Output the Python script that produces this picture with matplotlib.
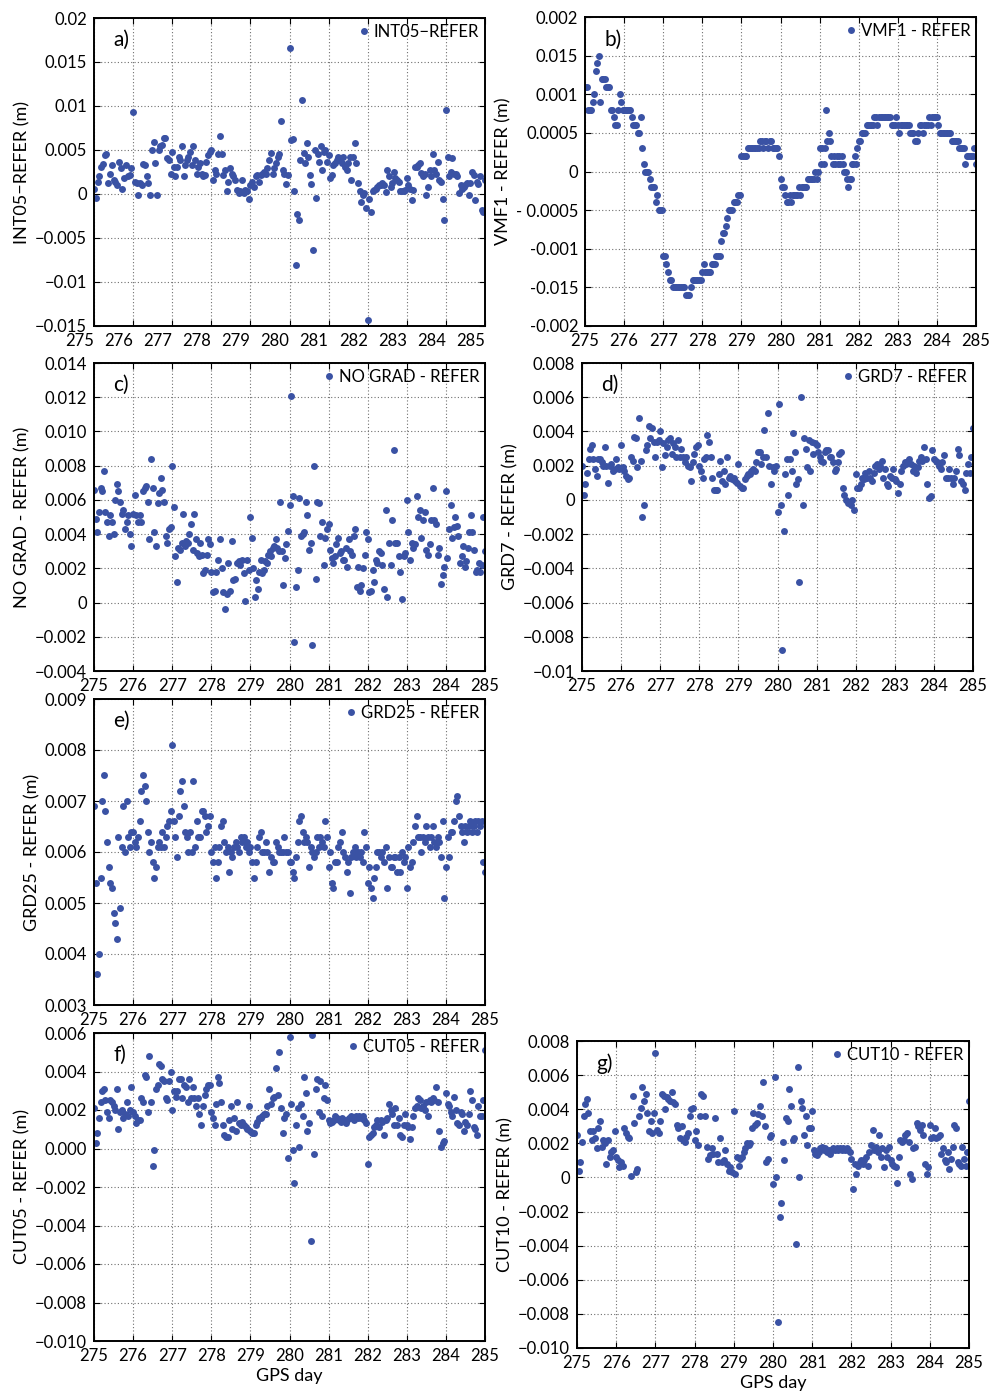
import numpy as np
import matplotlib
matplotlib.use("Agg")
import matplotlib.pyplot as plt
from matplotlib.transforms import ScaledTranslation

plt.rcParams['font.family'] = ['Lato', 'DejaVu Sans']

# GPS days covered by every panel
gps_days = [275, 276, 277, 278, 279, 280, 281, 282, 283, 284, 285]

# Differences per epoch, grouped by GPS day (one inner list per day)
# a) INT05 - REFER, mm
int05 = [
    [0.6, -0.4, 1.4, 2.0, 3.1, 3.4, 4.4, 4.6, 1.3, 2.3, 3.3, 1.6, 1.4, 1.0, 3.6, 2.9, 0.6, 1.8, 3.3, 2.0, 2.2, 2.9],
    [9.3, 1.4, 1.2, -0.1, 1.3, 1.0, 3.4, 3.3, 2.0, 1.2, -0.1, 5.0, 5.9, 3.5, -0.1, 5.0, 5.4, 5.6, 6.4, 6.4, 4.1, 3.9, 2.3],
    [4.8, 3.1, 2.0, 3.1, 4.2, 3.9, 5.5, 2.0, 3.3, 3.9, 4.2, 4.8, 3.3, 5.4, 3.9, 2.3, 3.1, 3.5, 2.3, 2.0, 2.2, 3.6, 4.4, 4.8],
    [5.0, 1.6, 2.7, 2.3, 4.5, 6.6, 4.6, 2.2, 2.7, 0.3, 1.4, 2.9, 2.3, 2.0, 1.6, 0.5, 0.1, 0.3, 1.6, 0.1, 0.5, 0.3, -0.6],
    [1.0, 1.4, 0.8, 2.0, 2.2, 1.4, 2.2, 2.3, 2.5, 2.3, 2.9, 3.9, 4.7, 2.3, 2.9, 3.5, 4.2, 4.6, 8.3, 2.7, 2.3, 1.1, 2.2],
    [16.6, 6.1, 6.3, 0.3, -8.1, -2.3, -3.0, 3.9, 10.7, 4.7, 3.5, 5.8, 4.2, 2.2, 1.1, -6.4, 5.0, -0.5, 4.6, 3.6, 5.4, 2.7, 4.8, 5.0, 3.6],
    [4.4, 1.8, 2.2, 3.3, 3.5, 3.9, 4.2, 3.9, 3.5, 4.2, 3.1, 2.7, 3.5, 4.2, 1.6, 4.2, 5.8, 3.5, 1.2, 0.3, -0.9, -0.1, 0.1, -1.6],
    [-14.3, -0.6, -2.0, 0.3, 0.5, 0.6, 0.8, 1.0, 1.0, 1.2, 1.0, 0.2, 2.7, 2.0, 0.8, 1.3, 2.5, 1.8, 1.6, 1.4, 0.3, 0.3, 0.3, 0.5],
    [1.8, 1.0, 0.6, -0.7, 0.5, 3.1, 3.1, 3.3, 3.5, 2.4, 2.0, 2.3, -0.1, 0.8, 2.7, 2.0, 4.5, 2.7, 2.3, 3.6, 1.6, 1.4, -0.6, -3.0],
    [9.5, 4.2, 2.0, 2.5, 4.1, 2.3, 2.3, 2.0, 0.1, 1.0, 0.6, 0.8, 1.0, 1.2, -0.1, 1.2, 2.5, 2.2, -0.7, 1.4, 1.1, 2.0, -1.8, -2.0, 1.6],
]

# b) VMF1 - REFER, units of 0.1 mm
vmf1 = [
    [11, 11, 8, 8, 8, 9, 10, 13, 14, 15, 9, 12, 12, 12, 11, 11, 11, 8, 8, 7, 6, 6, 8, 10, 9, 8],
    [8, 8, 8, 8, 8, 7, 6, 6, 6, 5, 5, 7, 3, 1, 0, 0, 0, -1, -2, -2, -2, -4, -3, -5, -5, -5],
    [-11, -11, -12, -13, -14, -14, -15, -15, -15, -15, -15, -15, -15, -15, -16, -16, -16, -15, -14, -14, -14, -14, -14, -14],
    [-13, -12, -13, -13, -13, -13, -12, -12, -12, -11, -11, -11, -9, -8, -8, -7, -6, -5, -5, -5, -4, -4, -4, -3, -3],
    [2, 2, 2, 2, 3, 3, 3, 3, 3, 3, 3, 3, 4, 4, 3, 4, 4, 3, 4, 4, 3, 3, 3, 3, 2],
    [-1, -2, -2, -3, -4, -4, -3, -4, -3, -3, -3, -3, -2, -3, -2, -2, -2, -2, -1, -1, -1, -1, -1, 0, -1, 0],
    [3, 1, 3, 1, 3, 8, 4, 5, 4, 2, 1, 2, 1, 2, 1, 2, 1, 2, 1, 0, 0, -1, -2, -1, -1, 1, 1, 2, 1, 3],
    [4, 4, 5, 5, 5, 6, 6, 6, 6, 6, 7, 7, 6, 7, 7, 7, 7, 7, 7, 7, 7, 6, 6, 6, 7],
    [6, 5, 6, 6, 6, 6, 6, 6, 5, 5, 5, 4, 4, 5, 6, 6, 5, 6, 6, 6, 7, 6, 7, 7, 7],
    [7, 6, 5, 5, 5, 5, 5, 5, 5, 5, 4, 4, 4, 4, 4, 3, 3, 3, 3, 1, 2, 2, 2, 2, 2, 3, 1],
]

# c) NO GRAD - REFER, mm
nograd = [
    [6.6, 4.9, 4.1, 5.3, 6.7, 6.5, 7.7, 5.3, 4.7, 3.9, 5.1, 4.7, 4.0, 6.0, 6.9, 6.5, 5.9, 5.2, 5.4, 4.3, 4.7, 5.1, 4.0, 3.3],
    [5.2, 6.3, 5.1, 4.7, 5.1, 4.7, 6.5, 6.7, 6.8, 5.9, 3.7, 8.4, 6.7, 4.1, 3.3, 5.8, 6.4, 7.3, 6.6, 5.9, 3.9, 3.5, 4.3, 4.4],
    [8.0, 5.6, 2.7, 1.2, 3.2, 3.1, 3.5, 5.2, 3.3, 3.6, 3.5, 4.0, 4.6, 3.1, 5.2, 3.7, 2.9, 2.7, 3.5, 2.8, 1.7, 1.9, 2.8, 3.7, 3.4],
    [1.8, 0.6, 0.7, 1.8, 2.5, 3.7, 2.0, 0.6, -0.4, 0.5, 2.3, 0.7, 3.6, 1.3, 1.4, 2.3, 2.4, 2.2, 2.5, 1.7, 0.1, 2.5, 1.9],
    [5.0, 3.8, 2.0, 0.3, 1.3, 0.8, 1.8, 2.5, 1.7, 1.9, 2.4, 2.3, 2.8, 3.0, 2.7, 3.2, 3.3, 3.7, 3.2, 3.0, 5.9, 3.0, 1.0, 2.6, 3.4, 4.2],
    [5.7, 12.1, 6.2, -2.3, 0.9, 1.9, 6.1, 3.9, 4.0, 4.1, 5.9, 5.1, 3.1, 3.5, -2.5, 8.0, 1.4, 5.9, 5.8, 3.9, 4.7, 2.2, 3.8, 4.3],
    [4.6, 3.1, 2.6, 2.3, 2.7, 3.4, 3.8, 2.9, 3.0, 2.5, 2.5, 3.2, 2.1, 3.7, 3.0, 2.8, 3.9, 4.3, 0.9, 2.1, 0.7, 1.0, 2.0, 2.8, 4.1],
    [3.7, 0.6, 0.7, 1.9, 1.2, 2.5, 2.3, 3.0, 2.9, 2.2, 0.8, 5.4, 0.3, 3.5, 2.2, 4.8, 8.9, 3.5, 3.5, 2.7, 1.8, 0.2, 2.7, 2.9],
    [6.0, 4.1, 2.5, 3.5, 3.2, 3.4, 6.2, 5.0, 5.4, 3.8, 4.8, 5.3, 3.1, 2.8, 3.4, 4.8, 6.7, 4.8, 4.6, 2.8, 3.2, 1.1, 1.6, 2.1],
    [6.5, 2.6, 4.3, 5.7, 3.8, 4.4, 5.0, 4.5, 3.9, 2.3, 2.7, 3.3, 2.1, 2.4, 3.2, 4.1, 5.1, 4.1, 3.1, 1.8, 1.9, 2.3, 1.8, 2.2, 5.0, 3.0],
]

# d) GRD7 - REFER, mm
grd7 = [
    [2.0, 0.3, 0.9, 1.6, 2.4, 3.0, 3.2, 2.4, 1.8, 1.4, 2.4, 2.4, 2.2, 2.0, 3.1, 2.0, 1.0, 2.0, 2.1, 1.7, 1.8, 2.4, 1.9, 1.8],
    [3.2, 1.9, 1.7, 1.4, 1.2, 1.3, 2.5, 2.3, 3.7, 3.6, 1.9, 4.8, 2.3, -1.0, -0.3, 2.9, 3.2, 4.3, 3.6, 4.2, 3.4, 2.5, 3.4, 3.5],
    [4.0, 1.9, 3.3, 2.6, 3.1, 3.5, 3.6, 2.7, 3.3, 3.1, 2.5, 3.5, 2.5, 3.0, 2.5, 2.2, 2.5, 2.0, 1.9, 1.1, 2.2, 2.7, 3.1, 3.2],
    [2.0, 1.7, 1.3, 2.4, 2.5, 3.8, 3.4, 2.5, 1.3, 0.6, 0.6, 0.6, 1.5, 2.3, 1.1, 1.7, 0.9, 2.5, 1.3, 1.4, 1.2, 1.3, 1.1, 1.0],
    [2.1, 0.8, 0.7, 0.7, 1.2, 1.4, 1.5, 1.5, 1.7, 1.8, 1.7, 2.2, 2.8, 2.8, 2.1, 2.5, 4.1, 2.5, 5.1, 2.0, 0.9, 1.9, 1.7, 2.0],
    [-0.7, 5.6, -0.3, -8.8, -1.8, 1.5, 2.4, 0.3, 2.4, 1.7, 3.9, 2.8, 0.9, 1.2, -4.8, 6.0, -0.3, 3.6, 3.0, 1.9, 3.5, 1.7, 3.4, 2.7, 3.3],
    [3.2, 2.8, 2.5, 2.3, 2.2, 2.8, 2.9, 2.9, 2.5, 2.5, 2.2, 1.7, 1.8, 2.2, 2.7, 2.8, 0.7, 0.3, 0.0, -0.2, -0.1, -0.3, 0.0, -0.6],
    [1.5, 0.7, 0.7, 0.9, 1.3, 1.2, 1.6, 1.3, 1.7, 1.3, 1.1, 1.6, 2.0, 2.1, 1.8, 2.0, 2.3, 1.3, 1.8, 0.9, 0.8, 1.4, 1.3, 1.8],
    [1.2, 1.1, 0.4, 0.9, 1.7, 2.0, 2.2, 2.1, 2.3, 2.4, 2.1, 1.7, 2.0, 1.6, 1.9, 2.3, 2.5, 2.3, 3.1, 2.4, 0.9, 0.1, 0.2, 2.9],
    [2.4, 2.3, 2.2, 2.0, 1.8, 2.2, 2.6, 1.3, 1.3, 1.8, 1.3, 0.9, 1.3, 1.7, 3.0, 2.6, 1.1, 0.9, 0.6, 1.6, 2.1, 1.6, 2.5, 4.2],
]

# e) GRD25 - REFER, mm
grd25 = [
    [6.9, 5.4, 3.6, 4.0, 5.5, 7.0, 7.5, 6.8, 6.2, 5.7, 5.4, 5.3, 4.8, 4.6, 4.3, 6.3, 4.9, 6.1, 6.9, 6.0, 7.0, 6.3, 6.1, 6.4],
    [6.4, 6.2, 6.1, 6.3, 6.6, 7.2, 7.5, 7.3, 7.0, 6.4, 6.0, 6.2, 5.8, 5.5, 5.7, 6.1, 6.2, 6.1, 6.4, 6.1, 6.3, 6.5, 6.6, 6.8],
    [8.1, 6.6, 6.3, 5.9, 6.7, 7.2, 7.4, 6.9, 6.4, 6.3, 6.0, 6.4, 6.0, 7.4, 6.1, 6.6, 6.3, 6.3, 6.8, 6.8, 6.7, 6.4, 6.5, 6.7],
    [6.0, 5.8, 6.1, 5.5, 5.8, 6.1, 6.5, 6.6, 6.2, 6.0, 6.1, 5.6, 6.0, 5.9, 6.1, 6.2, 6.1, 6.0, 6.3, 6.2, 6.3, 6.1, 6.2, 6.0],
    [6.1, 5.8, 5.5, 5.8, 6.1, 6.3, 6.4, 6.0, 6.0, 6.2, 6.0, 5.6, 5.9, 5.8, 5.8, 6.2, 6.1, 6.0, 6.0, 6.0, 6.3, 6.0, 6.0],
    [5.8, 5.8, 5.6, 5.5, 5.9, 6.2, 6.6, 6.7, 6.4, 6.2, 6.3, 6.2, 5.7, 6.1, 6.0, 5.9, 6.0, 6.3, 6.1, 6.3, 6.2, 6.1, 6.6, 6.3],
    [5.7, 6.0, 5.4, 5.3, 5.8, 5.8, 6.1, 6.2, 6.4, 6.0, 5.9, 5.6, 5.8, 5.2, 5.9, 6.0, 6.1, 5.9, 6.0, 5.9, 6.0, 5.8, 6.4, 6.1],
    [5.4, 5.7, 5.3, 5.1, 5.5, 5.7, 6.0, 6.0, 5.9, 6.0, 5.8, 6.1, 5.3, 5.9, 5.7, 5.7, 5.9, 5.9, 5.6, 5.9, 5.6, 6.0, 5.8, 5.9],
    [5.3, 6.1, 5.7, 5.8, 6.2, 6.5, 6.7, 6.3, 6.3, 6.0, 6.3, 6.2, 6.5, 6.3, 6.1, 6.3, 6.5, 6.2, 6.1, 6.3, 6.2, 5.9, 6.6, 5.1],
    [5.7, 6.3, 5.9, 6.4, 6.4, 6.6, 7.0, 7.1, 6.7, 6.5, 6.4, 6.2, 6.5, 6.4, 6.5, 6.6, 6.4, 6.5, 6.6, 6.4, 6.6, 6.5, 6.6, 5.8, 5.6],
]

# f) CUT05 - REFER, mm
cut05 = [
    [2.1, 0.3, 0.8, 1.6, 2.4, 3.0, 3.1, 2.5, 1.9, 1.6, 2.5, 2.4, 2.2, 2.0, 3.1, 1.0, 1.9, 2.0, 1.6, 1.8, 2.4, 1.7, 2.0, 3.2],
    [1.9, 1.7, 1.3, 1.5, 1.5, 2.6, 2.4, 3.8, 3.7, 1.9, 4.8, 2.4, -0.9, -0.1, 3.1, 3.3, 4.4, 4.3, 3.6, 3.5, 2.6, 2.5, 3.5, 4.0],
    [2.0, 3.0, 2.7, 3.0, 3.6, 3.6, 2.6, 3.3, 3.2, 2.4, 3.6, 2.6, 3.2, 2.6, 2.2, 2.6, 1.8, 1.2, 2.2, 2.8, 3.1, 3.3, 3.3],
    [1.9, 1.6, 1.2, 2.3, 3.7, 3.4, 2.4, 1.2, 0.7, 0.6, 0.6, 1.5, 2.2, 1.0, 1.6, 0.9, 2.4, 1.3, 1.2, 1.4, 1.2, 1.1, 1.0, 2.2],
    [0.9, 0.8, 0.8, 1.2, 1.4, 1.6, 1.6, 1.7, 1.8, 1.8, 2.2, 3.1, 2.3, 2.6, 2.7, 4.2, 2.8, 5.0, 2.1, 0.8, 1.6, 1.8, -0.5],
    [5.8, 2.3, -0.1, -1.8, 1.2, 2.1, 0.1, 2.3, 1.7, 3.7, 2.9, 0.9, 1.3, -4.8, 5.9, -0.3, 3.1, 3.6, 1.9, 3.5, 1.7, 2.6, 3.3, 2.5],
    [1.5, 1.3, 1.4, 1.5, 1.7, 1.6, 1.5, 1.4, 1.6, 1.5, 1.3, 1.5, 1.6, 1.7, 1.6, 1.5, 1.7, 1.6, 1.7, 1.6, 1.7, 1.5, 1.3],
    [-0.8, 0.6, 0.7, 0.8, 1.1, 1.2, 1.5, 1.1, 1.5, 1.4, 0.7, 1.5, 1.6, 2.3, 2.0, 1.8, 1.2, 2.1, 1.2, 1.6, 0.7, 0.6, 1.2, 1.8],
    [1.2, 1.1, 0.5, 1.1, 1.7, 2.1, 2.2, 2.6, 2.5, 2.1, 2.2, 2.0, 2.4, 1.7, 2.5, 2.4, 2.6, 2.5, 3.2, 2.4, 0.9, 0.1, 0.3, 0.4],
    [2.9, 2.3, 2.2, 1.9, 1.7, 2.7, 2.0, 1.3, 1.2, 1.9, 1.8, 0.9, 1.4, 1.2, 1.8, 3.0, 2.5, 1.1, 1.0, 0.7, 2.2, 1.7, 1.7, 2.5, 5.1],
]

# g) CUT10 - REFER, mm
cut10 = [
    [2.5, 0.4, 0.9, 2.1, 3.6, 4.3, 4.6, 3.8, 2.7, 2.2, 2.7, 2.3, 1.7, 2.9, 3.3, 1.8, 2.2, 2.0, 0.8, 2.2, 1.2, 1.5, 1.6, 2.7],
    [1.2, 1.0, 0.6, 0.9, 0.7, 2.9, 2.6, 2.4, 2.3, 0.1, 4.8, 3.2, 0.3, 0.5, 3.6, 4.1, 5.3, 4.5, 4.9, 3.8, 2.7, 3.3, 2.6, 3.8],
    [7.3, 2.8, 2.6, 3.3, 4.9, 4.8, 4.0, 4.7, 4.6, 4.5, 5.0, 4.4, 4.3, 3.1, 2.9, 2.3, 3.0, 2.2, 2.1, 2.4, 2.6, 3.6, 4.0, 4.1],
    [2.2, 2.7, 1.9, 3.6, 4.9, 4.8, 3.6, 1.8, 1.1, 1.3, 1.7, 1.4, 3.5, 1.4, 0.9, 2.3, 0.9, 1.0, 1.6, 0.8, 0.4, 0.6, 0.3],
    [3.9, 0.2, 1.2, 0.7, 1.1, 1.2, 1.5, 1.7, 2.0, 1.9, 2.0, 2.9, 3.8, 3.1, 3.2, 3.7, 4.2, 3.6, 5.6, 3.0, 0.9, 1.1, 2.4, 2.5],
    [-0.4, 5.9, 0.0, -8.5, -2.3, -1.5, 2.1, 1.0, 3.5, 3.3, 5.2, 4.2, 2.2, 2.3, -3.9, 6.5, 0.0, 4.5, 4.1, 2.5, 3.6, 1.9, 2.9, 2.9],
    [3.9, 1.6, 1.4, 1.3, 1.5, 1.7, 1.8, 1.6, 1.7, 1.5, 1.6, 1.4, 1.6, 1.7, 1.6, 1.7, 1.6, 1.7, 1.6, 1.7, 1.6, 1.7, 1.6, 1.5],
    [1.1, -0.7, 0.8, 0.2, 0.7, 0.9, 1.0, 0.8, 1.0, 1.2, 0.7, 1.5, 1.9, 2.8, 1.6, 1.8, 1.5, 2.5, 1.2, 1.7, 0.6, 1.6, 1.2, 1.8],
    [1.0, 0.8, 0.7, 0.6, -0.3, 1.2, 2.2, 2.1, 2.2, 2.5, 2.6, 2.1, 0.2, -0.1, 1.7, 1.8, 3.2, 3.0, 2.8, 3.1, 2.5, 0.8, 0.2, 0.6],
    [3.1, 2.3, 2.4, 2.9, 2.3, 2.4, 2.5, 1.4, 1.7, 1.0, 0.9, 1.5, 0.5, 1.1, 1.8, 3.1, 2.9, 0.9, 0.8, 0.7, 1.8, 1.1, 0.7, 1.5, 4.5],
]

# y tick labels as printed on each panel (bottom to top)
yt_int05 = ['\u22120.015', '\u22120.01', '\u22120.005', '0', '0.005', '0.01', '0.015', '0.02']
yt_vmf1 = ['-0.002', '-0.015', '-0.001', '- 0.0005', '0', '0.0005', '0.001', '0.015', '0.002']
yt_nograd = ['\u22120.004', '\u22120.002', '0', '0.002', '0.004', '0.006', '0.008', '0.010', '0.012', '0.014']
yt_grd7 = ['\u22120.01', '\u22120.008', '\u22120.006', '\u22120.004', '\u22120.002', '0', '0.002', '0.004', '0.006', '0.008']
yt_grd25 = ['0.003', '0.004', '0.005', '0.006', '0.007', '0.008', '0.009']
yt_cut05 = ['\u22120.010', '\u22120.008', '\u22120.006', '\u22120.004', '\u22120.002', '0.000', '0.002', '0.004', '0.006']
yt_cut10 = ['\u22120.010', '\u22120.008', '\u22120.006', '\u22120.004', '\u22120.002', '0', '0.002', '0.004', '0.006', '0.008']

W, H = 993, 1391
DOT = '#3a52a4'

fig = plt.figure(figsize=(W / 100, H / 100), dpi=100)


def px_rect(left, top, right, bottom):
    return [left / W, 1 - bottom / H, (right - left) / W, (bottom - top) / H]


def epochs(daily):
    # spread each day's samples evenly over that day
    xs = []
    last = len(daily) - 1
    for i, vals in enumerate(daily):
        d = gps_days[i]
        xs.append(np.linspace(d, d + 1, len(vals), endpoint=(i == last)))
    return np.concatenate(xs), np.concatenate([np.asarray(v, float) for v in daily])


def panel(rect, daily, unit, ylim, ylabels, ylabel, legend, letter, xlabel=None, xshift=0.0):
    ax = fig.add_axes(px_rect(*rect))
    x, y = epochs(daily)
    ax.plot(x, y * unit, 'o', ms=5.0, color=DOT, mec='none', label=legend)

    ax.set_xlim(gps_days[0], gps_days[-1])
    ax.set_xticks(gps_days)
    ax.set_ylim(*ylim)
    ax.set_yticks(np.linspace(ylim[0], ylim[1], len(ylabels)))
    ax.set_yticklabels(ylabels)
    ax.tick_params(direction='in', length=4, width=0.8, labelsize=12,
                   top=True, right=True, pad=5)
    ax.grid(True, linestyle=(0, (1, 2)), color='#707070', linewidth=0.8)
    for s in ax.spines.values():
        s.set_linewidth(1.4)
    ax.set_ylabel(ylabel, fontsize=13, labelpad=3)
    if xlabel:
        ax.set_xlabel(xlabel, fontsize=13, labelpad=3)
    if xshift:
        off = ScaledTranslation(xshift, 0, fig.dpi_scale_trans)
        for lab in ax.get_xticklabels():
            lab.set_transform(lab.get_transform() + off)
    ax.legend(loc='upper right', frameon=False, fontsize=12, handlelength=0.6,
              handletextpad=0.3, borderaxespad=0.15, borderpad=0.2)
    ax.text(0.05, 0.96, letter, transform=ax.transAxes, fontsize=15,
            va='top', ha='left')
    return ax


panel((94, 18, 485, 326), int05, 1e-3, (-0.015, 0.02), yt_int05,
      'INT05\u2212REFER (m)', 'INT05\u2212REFER', 'a)', xshift=-0.145)
panel((585, 17, 976, 326), vmf1, 1e-4, (-0.002, 0.002), yt_vmf1,
      'VMF1 - REFER (m)', 'VMF1 - REFER', 'b)')
panel((94, 363, 485, 671), nograd, 1e-3, (-0.004, 0.014), yt_nograd,
      'NO GRAD - REFER (m)', 'NO GRAD - REFER', 'c)')
panel((582, 363, 973, 671), grd7, 1e-3, (-0.01, 0.008), yt_grd7,
      'GRD7 - REFER (m)', 'GRD7 - REFER', 'd)')
panel((94, 699, 485, 1005), grd25, 1e-3, (0.003, 0.009), yt_grd25,
      'GRD25 - REFER (m)', 'GRD25 - REFER', 'e)')
panel((94, 1033, 485, 1341), cut05, 1e-3, (-0.010, 0.006), yt_cut05,
      'CUT05 - REFER (m)', 'CUT05 - REFER', 'f)', xlabel='GPS day')
panel((577, 1041, 969, 1348), cut10, 1e-3, (-0.010, 0.008), yt_cut10,
      'CUT10 - REFER (m)', 'CUT10 - REFER', 'g)', xlabel='GPS day')

fig.savefig('out.png', dpi=100)
